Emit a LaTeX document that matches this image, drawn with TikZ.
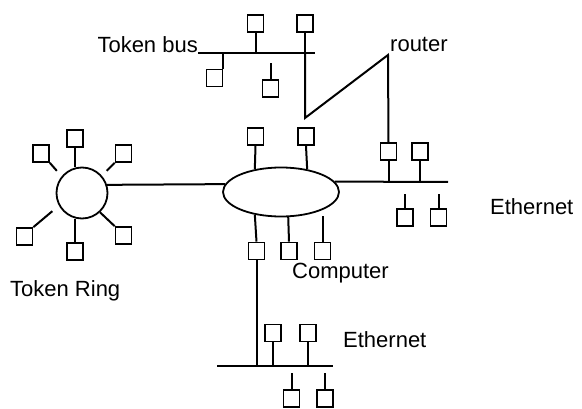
\documentclass[tikz,border=0pt]{standalone}
\usepackage{fontspec}
\setmainfont{Liberation Sans}
\usetikzlibrary{shapes.geometric}
\tikzset{
  host/.style={draw=black,fill=white,line width=1.7pt,minimum width=16pt,
    minimum height=17pt,inner sep=0pt},
  wire/.style={draw=black,line width=2pt},
  lbl/.style={font=\fontsize{22}{26}\selectfont,inner sep=0pt},
}
\begin{document}
\begin{tikzpicture}[x=1pt,y=-1pt]
  \useasboundingbox (0,0) rectangle (582,409);
  % token ring
  \node[circle,draw,line width=1.8pt,minimum size=51pt,inner sep=0pt] (ring) at (82,193) {};
  \node[host] (r0) at (41,153.5) {};
  \node[host] (r1) at (75,138.5) {};
  \node[host] (r2) at (123.5,153.5) {};
  \node[host] (r4) at (123.5,235.5) {};
  \node[host] (r5) at (75,251.5) {};
  \node[host] (r6) at (24.5,236.5) {};
  \draw[wire] (r1.south) -- (r1.south |- ring.north);
  \draw[wire] (r5.north) -- (r5.north |- ring.south);
  \draw[wire] (r0.south east) -- ++(7,8);
  \draw[wire] (r2.south west) -- ++(-8,8);
  \draw[wire] (r6.north east) -- ++(19,-16);
  \draw[wire] (ring.-47) -- (r4.north west);
  \node[lbl,anchor=base west] (ringlbl) at (10,297) {Token Ring};

  % computer
  \node[ellipse,draw,line width=1.8pt,minimum width=116pt,minimum height=49pt,inner sep=0pt] (cloud) at (281,192) {};
  \draw[wire] (ring.18) -- (cloud.172);
  \node[host] (c1) at (255.5,136.5) {};
  \node[host] (c2) at (306,136.5) {};
  \draw[wire] (c1.south) -- (cloud.139);
  \draw[wire] (c2.south) -- (cloud.41);
  \node[host] (d1) at (256.5,251) {};
  \node[host] (d2) at (289,251) {};
  \node[host] (d3) at (322.5,251) {};
  \draw[wire] (cloud.-139) -- (d1.north);
  \draw[wire] (cloud.-74) -- (d2.north);
  \draw[wire] (d3.north) -- ++(0,-26);
  \node[lbl,anchor=base west] (complbl) at (292,279) {Computer};

  % token bus
  \coordinate (busL) at (198,53);
  \coordinate (busR) at (315,53);
  \draw[wire] (busL) -- (busR);
  \node[lbl,anchor=base east] (buslbl) at (busL) {Token bus};
  \node[host] (tb1) at (255.5,23.5) {};
  \node[host] (tb2) at (305,23.5) {};
  \node[host] (tb3) at (214.5,78) {};
  \node[host] (tb4) at (270.5,88.5) {};
  \draw[wire] (tb1.south) -- (tb1.south |- busL);
  \draw[wire] (tb2.south) -- (tb2.south |- busL);
  \draw[wire] (tb3.north east) -- (tb3.north east |- busL);
  \draw[wire] (tb4.north) -- ++(0,-16);

  % right ethernet and router
  \coordinate (eR) at (448,182);
  \draw[wire] (cloud.11) -- (eR);
  \node[host] (eA1) at (388.5,151.5) {};
  \node[host] (eA2) at (420,151.5) {};
  \node[host] (eA3) at (405,217.5) {};
  \node[host] (eA4) at (438.5,217.5) {};
  \draw[wire] (eA1.south) -- (eA1.south |- eR);
  \draw[wire] (eA2.south) -- (eA2.south |- eR);
  \draw[wire] (eA3.north) -- ++(0,-14);
  \draw[wire] (eA4.north) -- ++(0,-14);
  \coordinate (kink) at (305,118);
  \coordinate (router) at (388,55);
  \draw[wire] (tb2.south |- busL) -- (kink) -- (router) -- (eA1.north);
  \node[lbl,anchor=base west] (routerlbl) at (390,52) {router};
  \node[lbl,anchor=base west] (ethRlbl) at (490,215) {Ethernet};

  % bottom ethernet
  \coordinate (bL) at (217,366);
  \coordinate (bR) at (333,366);
  \draw[wire] (bL) -- (bR);
  \draw[wire] (d1.south) -- (d1.south |- bL);
  \node[host] (f1) at (273,333) {};
  \node[host] (f2) at (308,333) {};
  \node[host] (f3) at (291.5,398.5) {};
  \node[host] (f4) at (325,398.5) {};
  \draw[wire] (f1.south) -- (f1.south |- bL);
  \draw[wire] (f2.south) -- (f2.south |- bL);
  \draw[wire] (f3.north) -- ++(0,-16);
  \draw[wire] (f4.north) -- ++(0,-16);
  \node[lbl,anchor=base west] (ethBlbl) at (343,348) {Ethernet};
\end{tikzpicture}
\end{document}
